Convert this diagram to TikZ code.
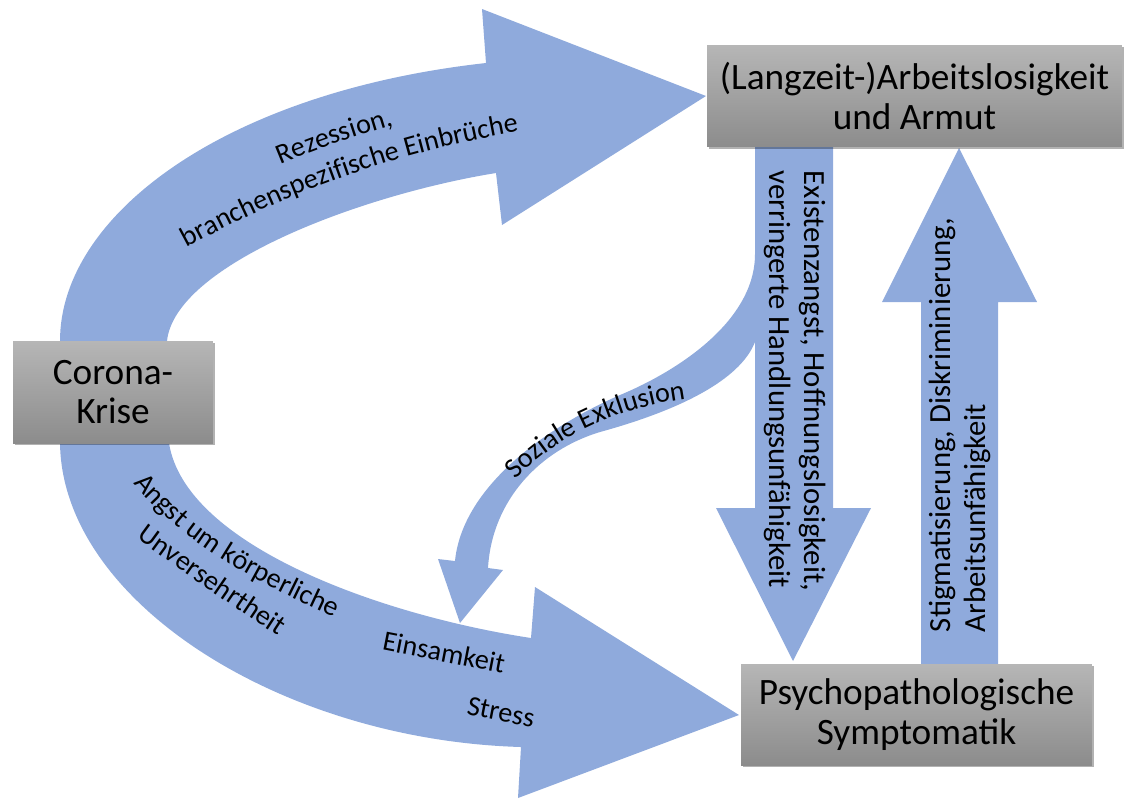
\documentclass[tikz,border=0pt]{standalone}
\usepackage{fontspec}
\setmainfont{Carlito}
\usetikzlibrary{decorations.text,shadows}
\definecolor{arrowblue}{RGB}{143,170,220}
\definecolor{boxtop}{RGB}{182,182,182}
\definecolor{boxbot}{RGB}{140,140,140}
\newcommand\boxfont{\fontsize{21.2pt}{22.5pt}\selectfont}
\newcommand\lblfont{\fontsize{16pt}{19.3pt}\selectfont}
\newcommand\vlblfont{\fontsize{17.5pt}{19.5pt}\selectfont}
\begin{document}
\begin{tikzpicture}[x=0.02cm,y=-0.02cm,
  blockarrow/.style={fill=arrowblue, draw=none},
  greybox/.style={top color=boxtop, bottom color=boxbot, draw=none, inner sep=0pt, align=center, font=\boxfont,
     drop shadow={shadow xshift=1pt, shadow yshift=-1.2pt, opacity=0.3, fill=black}},
  lbl/.style={font=\lblfont, inner sep=0pt, align=left},
  vlbl/.style={font=\vlblfont, inner sep=0pt, align=left},
  curvetext/.style={decorate, decoration={text along path, text align=center, text={#1}}}
]
\useasboundingbox (0,0) rectangle (1125,799);

% block arrows
\fill[blockarrow] (60,380) -- (60,341) .. controls (60,215) and (225,92) .. (486,63)
  -- (482,9) -- (706,96) -- (502,225) -- (496,173)
  .. controls (360,195) and (175,265) .. (167,341) -- (167,380) -- cycle;
\fill[blockarrow] (60,400) -- (60,441) .. controls (60,600) and (280,740) .. (521,747)
  -- (518,798) -- (739,715) -- (535,587) -- (531,638)
  .. controls (380,615) and (185,545) .. (169,443) -- (169,400) -- cycle;
\fill[blockarrow] (755,254) .. controls (755,320) and (680,370) .. (620,395)
  .. controls (540,430) and (462,490) .. (455,561) -- (438,559) -- (460,623) -- (503,570) -- (488,568)
  .. controls (492,500) and (540,450) .. (600,432)
  .. controls (680,410) and (740,380) .. (755,342) -- cycle;
\fill[blockarrow] (755,140) -- (755,508) -- (716,508) -- (793,661) -- (871,508) -- (833,508) -- (833,140) -- cycle;
\fill[blockarrow] (921,670) -- (921,302) -- (882,302) -- (959,148) -- (1037,302) -- (998,302) -- (998,670) -- cycle;

% boxes
\node[greybox, minimum width=4cm, minimum height=2.04cm] (corona) at (113,392) {Corona-\\Krise};
\node[greybox, minimum width=8.3cm, minimum height=2.04cm] (arbeit) at (914.5,96) {(Langzeit-)Arbeitslosigkeit\\und Armut};
\node[greybox, minimum width=7.02cm, minimum height=2.02cm] (psycho) at (916.5,714.5) {Psychopathologische\\Symptomatik};

% curved labels
\path[curvetext={|\lblfont|Rezession,}] (133,238) .. controls (248,173) and (368,118) .. (555,91);
\path[curvetext={|\lblfont|branchenspezifische Einbrüche}] (150,268) .. controls (260,205) and (380,150) .. (560,125);
\path[curvetext={|\lblfont|Angst um körperliche}] (126,474) .. controls (180,545) and (267,587) .. (345,622);
\path[curvetext={|\lblfont|Unversehrtheit}] (126,530) .. controls (180,570) and (230,605) .. (289,643);
\path[curvetext={|\lblfont|Soziale Exklusion}] (498,500) .. controls (550,432) and (630,402) .. (712,396);

% straight labels
\node[lbl, rotate=-11] (einsam) at (444,652) {Einsamkeit};
\node[lbl, rotate=-11] (stress) at (501,712) {Stress};
\node[vlbl, rotate=-90] (exist) at (795,381) {Existenzangst, Hoffnungslosigkeit,\\verringerte Handlungsunfähigkeit};
\node[vlbl, rotate=90] (stigma) at (960,425) {Stigmatisierung, Diskriminierung,\\Arbeitsunfähigkeit};
\end{tikzpicture}
\end{document}
